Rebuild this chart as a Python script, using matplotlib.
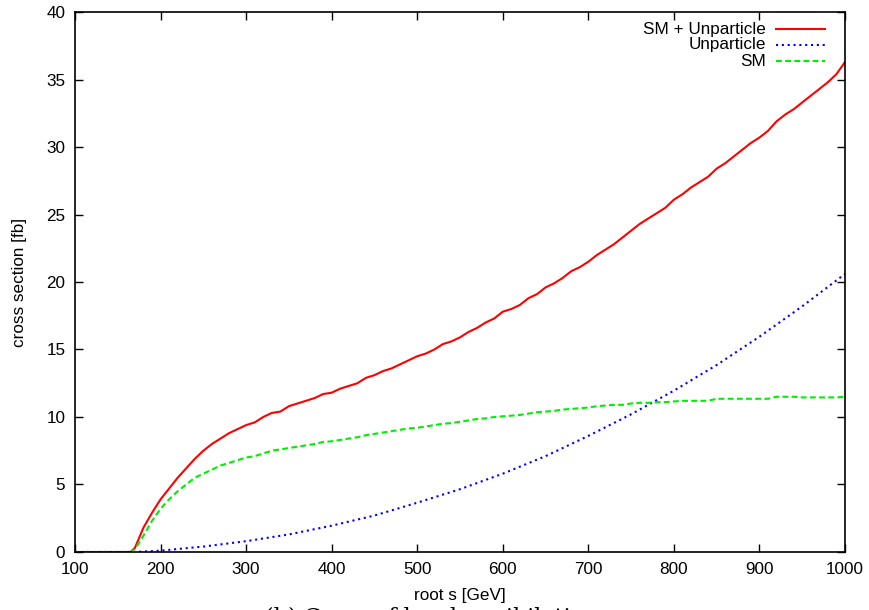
import matplotlib
matplotlib.use('Agg')
import matplotlib.pyplot as plt

plt.rcParams['font.family'] = ['Liberation Sans', 'DejaVu Sans']

# root s [GeV]
x_fine = [100, 165, 170, 180, 190, 200, 210, 220, 230, 240, 250, 260, 270, 280, 290,
          300, 310, 320, 330, 340, 350, 360, 370, 380, 390, 400, 410, 420, 430, 440,
          450, 460, 470, 480, 490, 500, 510, 520, 530, 540, 550, 560, 570, 580, 590,
          600, 610, 620, 630, 640, 650, 660, 670, 680, 690, 700, 710, 720, 730, 740,
          750, 760, 770, 780, 790, 800, 810, 820, 830, 840, 850, 860, 870, 880, 890,
          900, 910, 920, 930, 940, 950, 960, 970, 980, 990, 1000]

sm_unp = [0, 0, 0.3, 1.8, 2.9, 3.9, 4.7, 5.5, 6.2, 6.9, 7.5, 8.0, 8.4, 8.8, 9.1,
          9.4, 9.6, 10.0, 10.3, 10.4, 10.8, 11.0, 11.2, 11.4, 11.7, 11.8, 12.1, 12.3, 12.5, 12.9,
          13.1, 13.4, 13.6, 13.9, 14.2, 14.5, 14.7, 15.0, 15.4, 15.6, 15.9, 16.3, 16.6, 17.0, 17.3,
          17.8, 18.0, 18.3, 18.8, 19.1, 19.6, 19.9, 20.3, 20.8, 21.1, 21.5, 22.0, 22.4, 22.8, 23.3,
          23.8, 24.3, 24.7, 25.1, 25.5, 26.1, 26.5, 27.0, 27.4, 27.8, 28.4, 28.8, 29.3, 29.8, 30.3,
          30.7, 31.2, 31.9, 32.4, 32.8, 33.3, 33.8, 34.3, 34.8, 35.4, 36.3]

sm = [0, 0, 0.2, 1.2, 2.3, 3.2, 3.9, 4.5, 5.0, 5.5, 5.8, 6.1, 6.4, 6.6, 6.8,
      7.0, 7.1, 7.3, 7.5, 7.6, 7.7, 7.8, 7.9, 8.0, 8.15, 8.2, 8.3, 8.4, 8.5, 8.65,
      8.75, 8.85, 8.95, 9.05, 9.15, 9.2, 9.3, 9.4, 9.5, 9.55, 9.65, 9.75, 9.85, 9.9, 10.0,
      10.05, 10.1, 10.15, 10.25, 10.35, 10.4, 10.45, 10.55, 10.6, 10.65, 10.7, 10.8, 10.85, 10.9, 10.9,
      11.0, 11.05, 11.05, 11.1, 11.1, 11.15, 11.2, 11.2, 11.2, 11.2, 11.35, 11.35, 11.35, 11.35, 11.35,
      11.35, 11.35, 11.5, 11.5, 11.5, 11.45, 11.45, 11.45, 11.45, 11.45, 11.5]

x_unp = [100, 170, 200, 250, 300, 350, 400, 450, 500, 550, 600, 650, 700, 750,
         800, 850, 900, 950, 1000]
unp = [0, 0, 0.1, 0.4, 0.8, 1.3, 1.95, 2.7, 3.65, 4.65, 5.8, 7.1, 8.6, 10.2,
       11.95, 13.85, 15.95, 18.2, 20.6]

labels = ['SM + Unparticle', 'Unparticle', 'SM']
colors = ['#ff0000', '#0000ff', '#00ee00']
styles = ['-', (0, (1, 1.8)), (0, (2.8, 1.6))]

xticks = list(range(100, 1001, 100))
yticks = list(range(0, 41, 5))
fs = 12.3

fig = plt.figure(figsize=(8.69, 6.10), dpi=100)
ax = fig.add_axes([0.0863, 0.0951, 0.8861, 0.8852])

series = [(x_fine, sm_unp), (x_unp, unp), (x_fine, sm)]
for (xs, ys), c, ls in zip(series, colors, styles):
    ax.plot(xs, ys, color=c, lw=1.5, ls=ls)

ax.set_xlim(100, 1000)
ax.set_ylim(0, 40)
ax.set_xticks(xticks)
ax.set_yticks(yticks)
ax.tick_params(direction='in', length=6, width=1, top=True, right=True,
               labelsize=fs, pad=7)
for s in ax.spines.values():
    s.set_linewidth(1.2)

ax.set_xlabel('root s [GeV]', fontsize=fs, labelpad=8)
ax.set_ylabel('cross section [fb]', fontsize=fs, labelpad=14)

# gnuplot-style key: text right-aligned, sample to the right
row_y = [0.9685, 0.939, 0.909]
for lab, c, ls, yy in zip(labels, colors, styles, row_y):
    ax.plot([0.911, 0.974], [yy, yy], transform=ax.transAxes, color=c, lw=1.5, ls=ls)
    ax.text(0.897, yy, lab, transform=ax.transAxes, ha='right', va='center', fontsize=fs)

# caption of the original figure, cut off by the lower edge as in the source
fig.text(265 / 869, 0.006, '(b) Cross of local annihilation', fontsize=16,
         family='DejaVu Serif', ha='left', va='top')

fig.savefig('out.png', dpi=100)
